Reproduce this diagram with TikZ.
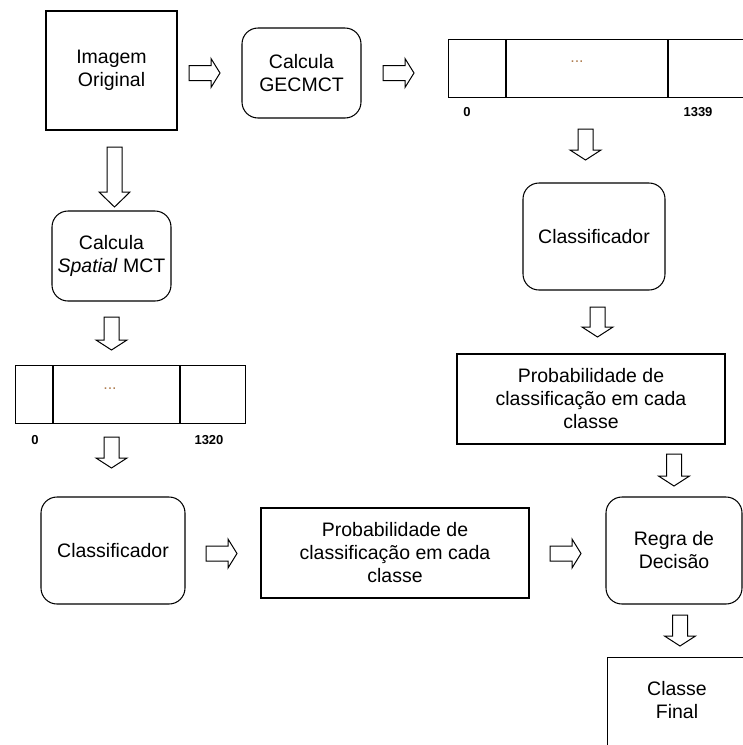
\documentclass[tikz,border=0pt]{standalone}
\usepackage{fontspec}
\setmainfont{Liberation Sans}
\usetikzlibrary{calc}
\definecolor{dotcol}{RGB}{175,125,80}
\newcommand\mainfnt{\fontsize{19.5}{23}\selectfont}
\newcommand\numfnt{\fontsize{13}{15}\selectfont\bfseries}
\newcommand\dotfnt{\fontsize{16}{18}\selectfont}
\newcommand\DArr[4]{\draw[blk] (#1-7.5,#2) -- (#1-7.5,#3-#4) -- (#1-15.5,#3-#4) -- (#1,#3) -- (#1+15.5,#3-#4) -- (#1+7.5,#3-#4) -- (#1+7.5,#2) -- cycle;}
\begin{document}
\begin{tikzpicture}[x=1pt,y=-1pt,
  box/.style={draw, line width=1.05pt, align=center, inner sep=0pt, font=\mainfnt},
  rbox/.style={box, rounded corners=16pt},
  blk/.style={draw, line width=1pt, line join=miter, fill=white},
  num/.style={font=\numfnt, inner sep=0pt},
  dotsty/.style={font=\dotfnt, text=dotcol, inner sep=0pt},
  rarr/.pic={\draw[blk] (0,-7.5) -- (22,-7.5) -- (22,-14.5) -- (31,0) -- (22,14.5) -- (22,7.5) -- (0,7.5) -- cycle;}]
\useasboundingbox (0,0) rectangle (743,745);

% nodes
\node[box, minimum width=131pt, minimum height=119pt] (img) at (111.5,70.5) {Imagem\\Original};
\node[rbox, minimum width=119pt, minimum height=90pt] (gec) at (301.5,73) {Calcula\\GECMCT};
\node[box, anchor=north west, minimum width=300pt, minimum height=58pt] (vecA) at (448,39) {};
\draw[line width=1.05pt] ($(vecA.north west)+(58,0)$) -- ($(vecA.south west)+(58,0)$);
\draw[line width=1.05pt] ($(vecA.north west)+(220,0)$) -- ($(vecA.south west)+(220,0)$);
\node[dotsty] (dA) at (577,62) {...};
\node[num] (zA) at (467,112) {0};
\node[num] (nA) at (698,112) {1339};

\node[rbox, minimum width=119pt, minimum height=90pt] (spat) at (111.5,256) {Calcula\\\textit{Spatial} MCT};
\node[box, anchor=north west, minimum width=230pt, minimum height=58pt] (vecB) at (15,365) {};
\draw[line width=1.05pt] ($(vecB.north west)+(38,0)$) -- ($(vecB.south west)+(38,0)$);
\draw[line width=1.05pt] ($(vecB.north west)+(165,0)$) -- ($(vecB.south west)+(165,0)$);
\node[dotsty] (dB) at (110,389) {...};
\node[num] (zB) at (35,440) {0};
\node[num] (nB) at (209,440) {1320};

\node[rbox, minimum width=142pt, minimum height=107pt] (clsR) at (594,236.5) {Classificador};
\node[box, minimum width=268pt, minimum height=90pt] (probR) at (591,399) {Probabilidade de\\classificação em cada\\classe};
\node[rbox, minimum width=144pt, minimum height=107pt] (clsL) at (113,550.5) {Classificador};
\node[box, minimum width=268pt, minimum height=90pt] (probL) at (395,553) {Probabilidade de\\classificação em cada\\classe};
\node[rbox, minimum width=136pt, minimum height=107pt] (regra) at (674,550.5) {Regra de\\Decisão};
\node[draw, line width=1.05pt, anchor=north west, minimum width=145pt, minimum height=100pt, inner sep=0pt] (final) at (607,657) {};
\node[font=\mainfnt, align=center, inner sep=0pt] (finaltxt) at (677,700) {Classe\\Final};

% block arrows
\pic at (189,73) {rarr};
\pic at (383,73) {rarr};
\pic at (206,553.5) {rarr};
\pic at (550,553.5) {rarr};
\DArr{114.5}{147}{207}{15}
\DArr{585.5}{129}{160}{10}
\DArr{111.5}{317}{350}{10}
\DArr{111.5}{437}{468}{10}
\DArr{597.5}{307}{337}{10}
\DArr{674}{454}{486}{10}
\DArr{680}{615}{646}{10}
\end{tikzpicture}
\end{document}
